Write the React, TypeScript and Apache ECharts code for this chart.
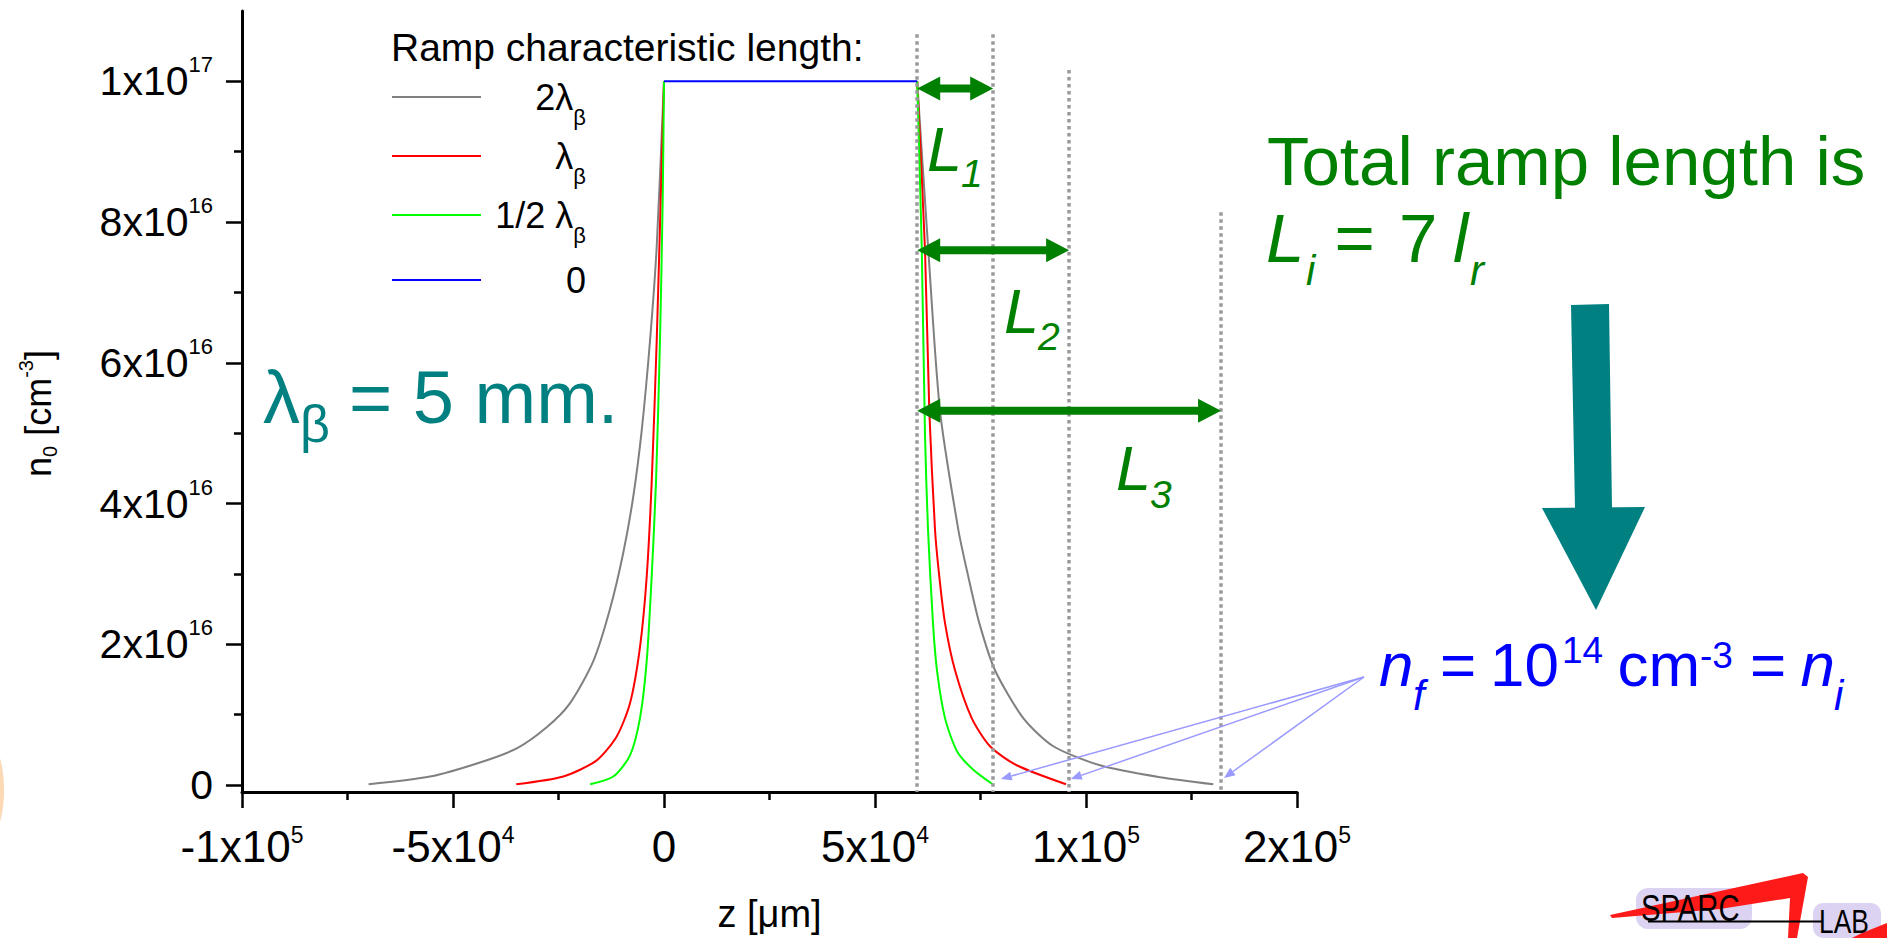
import React, { useEffect, useRef } from 'react';
import * as echarts from 'echarts';

const FONT = "'Liberation Sans', Arial, Helvetica, sans-serif";

// ---------- axes ----------
const X_MIN = -100000;
const X_MAX = 150000;
const Y_MIN = -1e15;
const Y_MAX = 1.1e17;

const xTickValues = [-100000, -50000, 0, 50000, 100000, 150000];
const xTickBase = ['-1x10', '-5x10', '0', '5x10', '1x10', '2x10'];
const xTickExp = ['5', '4', '', '4', '5', '5'];
const xMinorTicks = [-75000, -25000, 25000, 75000, 125000];

const yTickValues = [0, 2e16, 4e16, 6e16, 8e16, 1e17];
const yTickBase = ['0', '2x10', '4x10', '6x10', '8x10', '1x10'];
const yTickExp = ['', '16', '16', '16', '16', '17'];
const yMinorTicks = [1e16, 3e16, 5e16, 7e16, 9e16];

// ---------- series ----------
const seriesNames = ['2λβ', 'λβ', '1/2 λβ', '0'];
const seriesColors = ['#808080', '#ff0000', '#00ff00', '#0000ff'];
const legendMain = ['2λ', 'λ', '1/2 λ', '0'];
const legendSub = ['β', 'β', 'β', ''];

// z [µm], n0 [cm^-3]
const grayLeft = [
  [-70000, 1e14], [-55450, 1.2e15], [-43600, 3.2e15], [-34900, 5.2e15], [-27800, 8.2e15],
  [-22300, 1.16e16], [-16750, 1.76e16], [-12800, 2.5e16], [-9650, 3.3e16], [-7280, 4.1e16],
  [-5280, 5.04e16], [-3320, 6.31e16], [-1730, 7.65e16], [0, 1e17],
];
const grayRight = [
  [60000, 1e17], [62630, 7.6e16], [65400, 5.32e16], [69740, 3.63e16], [72110, 2.96e16],
  [74720, 2.3e16], [78440, 1.63e16], [85140, 9.5e15], [92250, 5.5e15], [103320, 2.8e15],
  [117540, 1.1e15], [130170, 1e14],
];
const redLeft = [
  [-35000, 1e14], [-23860, 1.2e15], [-15950, 3.5e15], [-11210, 6.9e15], [-8060, 1.16e16],
  [-5690, 1.96e16], [-4100, 2.96e16], [-2920, 4.3e16], [-1730, 6.31e16], [-780, 8.32e16], [0, 1e17],
];
const redRight = [
  [60000, 1e17], [61850, 7.6e16], [62870, 5.32e16], [64220, 3.63e16], [65240, 2.96e16],
  [66590, 2.3e16], [68960, 1.63e16], [72920, 9.5e15], [77250, 5.5e15], [83580, 2.8e15], [95260, 1e14],
];
const greenLeft = [
  [-17500, 1e14], [-12010, 1.2e15], [-8060, 4.2e15], [-5690, 9.5e15], [-4100, 1.76e16],
  [-2920, 2.96e16], [-1900, 4.3e16], [-950, 6.31e16], [-310, 8.32e16], [0, 1e17],
];
const greenRight = [
  [60000, 1e17], [61070, 7.65e16], [61850, 4.97e16], [62560, 3.63e16], [63740, 2.3e16],
  [64690, 1.63e16], [66590, 9.5e15], [69430, 4.8e15], [73220, 2.2e15], [77890, 1e14],
];
const bluePlateau = [[0, 1e17], [60000, 1e17]];

// ---------- annotations (data space) ----------
const dottedX = [60000, 78000, 96000, 132000];
const dottedTop = [1.067e17, 1.067e17, 1.016e17, 8.14e16];
const rampArrows = [
  { from: 60000, to: 78000, n: 9.9e16 },
  { from: 60000, to: 96000, n: 7.6e16 },
  { from: 60000, to: 132000, n: 5.32e16 },
];
const nfTargets = [[79800, 8.5e14], [96400, 8.5e14], [132700, 1e15]];

const TEAL = '#008080';
const GREEN = '#008000';
const BLUE = '#0000ff';
const LIGHTBLUE = '#9999ff';

function idxOf(arr: number[], v: number) {
  for (let i = 0; i < arr.length; i++) if (Math.abs(arr[i] - v) < 1) return i;
  return -1;
}

function mkSeries(name: string, color: string, data: number[][]) {
  return {
    type: 'line',
    name,
    data,
    symbol: 'none',
    showSymbol: false,
    smooth: 0.25,
    lineStyle: { color, width: 2 },
    itemStyle: { color },
    emphasis: { disabled: true },
    silent: true,
  };
}

function txt(text: string, x: number, y: number, size: number, color: string, italic = false) {
  return {
    type: 'text',
    x,
    y,
    z: 100,
    silent: true,
    style: {
      text,
      fill: color,
      fontSize: size,
      fontFamily: FONT,
      fontStyle: italic ? 'italic' : 'normal',
      align: 'left',
      verticalAlign: 'middle',
    },
  };
}

const legendFormatter = (name: string) => {
  const i = seriesNames.indexOf(name);
  return `{a|${legendMain[i]}}` + (legendSub[i] ? `{b|${legendSub[i]}}` : '');
};

const legendTextStyle = {
  width: 100,
  fontFamily: FONT,
  fontSize: 36,
  color: '#000',
  rich: {
    a: { fontFamily: FONT, fontSize: 36, color: '#000', lineHeight: 64, align: 'right', verticalAlign: 'middle' },
    b: { fontFamily: FONT, fontSize: 22, color: '#000', lineHeight: 22, align: 'right', verticalAlign: 'top', padding: [41, 0, 0, 0] },
  },
};

export default function App() {
  const ref = useRef<HTMLDivElement>(null);

  useEffect(() => {
    document.body.style.margin = '0';
    document.body.style.overflow = 'hidden';
    const chart = echarts.init(ref.current as HTMLDivElement, null, { renderer: 'svg' });

    const xRich = {
      b: { fontFamily: FONT, fontSize: 44, color: '#000', lineHeight: 46, verticalAlign: 'middle' },
      s: { fontFamily: FONT, fontSize: 23, color: '#000', lineHeight: 22, verticalAlign: 'top' },
    };
    const yRich = {
      b: { fontFamily: FONT, fontSize: 41, color: '#000', lineHeight: 55, verticalAlign: 'middle' },
      s: { fontFamily: FONT, fontSize: 22, color: '#000', lineHeight: 22, verticalAlign: 'top' },
    };

    const legendCommon = {
      orient: 'vertical',
      left: 392,
      padding: 0,
      itemWidth: 89,
      itemHeight: 2,
      itemGap: -4,
      selectedMode: false,
      formatter: legendFormatter,
      textStyle: legendTextStyle,
    };

    const option: any = {
      animation: false,
      backgroundColor: '#ffffff',
      textStyle: { fontFamily: FONT },
      title: {
        text: 'Ramp characteristic length:',
        left: 391,
        top: 28,
        padding: 0,
        textStyle: { fontFamily: FONT, fontSize: 39, fontWeight: 'normal', color: '#000' },
      },
      legend: [
        { ...legendCommon, top: 65, data: seriesNames.slice(0, 3).map((name) => ({ name, icon: 'rect' })) },
        { ...legendCommon, top: 262, data: seriesNames.slice(3).map((name) => ({ name, icon: 'rect' })) },
      ],
      grid: { left: 242, right: 590, top: 11, bottom: 143, containLabel: false },
      xAxis: [
        {
          type: 'value',
          min: X_MIN,
          max: X_MAX,
          position: 'bottom',
          axisLine: { onZero: false, lineStyle: { color: '#000', width: 3 } },
          axisTick: { customValues: xTickValues, length: 16, lineStyle: { color: '#000', width: 2.5 } },
          axisLabel: {
            customValues: xTickValues,
            margin: 31,
            formatter: (v: number) => {
              const i = idxOf(xTickValues, v);
              if (i < 0) return '';
              return `{b|${xTickBase[i]}}` + (xTickExp[i] ? `{s|${xTickExp[i]}}` : '');
            },
            rich: xRich,
          },
          splitLine: { show: false },
          name: 'z [μm]',
          nameLocation: 'middle',
          nameGap: 103,
          nameTextStyle: { fontFamily: FONT, fontSize: 38, color: '#000' },
        },
        {
          type: 'value',
          min: X_MIN,
          max: X_MAX,
          position: 'bottom',
          axisLine: { show: false, onZero: false },
          axisTick: { customValues: xMinorTicks, length: 8, lineStyle: { color: '#000', width: 2.5 } },
          axisLabel: { show: false },
          splitLine: { show: false },
        },
      ],
      yAxis: [
        {
          type: 'value',
          min: Y_MIN,
          max: Y_MAX,
          position: 'left',
          axisLine: { show: true, onZero: false, lineStyle: { color: '#000', width: 3 } },
          axisTick: { show: true, customValues: yTickValues, length: 16, lineStyle: { color: '#000', width: 2.5 } },
          axisLabel: {
            customValues: yTickValues,
            margin: 29,
            formatter: (v: number) => {
              const i = idxOf(yTickValues, v);
              if (i < 0) return '';
              return `{b|${yTickBase[i]}}` + (yTickExp[i] ? `{s|${yTickExp[i]}}` : '');
            },
            rich: yRich,
          },
          splitLine: { show: false },
          name: '{n|n}{s|0}{n| [cm}{p|-3}{n|]}',
          nameLocation: 'middle',
          nameRotate: 90,
          nameGap: 182,
          nameTextStyle: {
            fontFamily: FONT,
            fontSize: 36,
            color: '#000',
            padding: [0, 24, 0, 0],
            rich: {
              n: { fontFamily: FONT, fontSize: 36, color: '#000', lineHeight: 44, verticalAlign: 'middle' },
              s: { fontFamily: FONT, fontSize: 20, color: '#000', lineHeight: 20, verticalAlign: 'bottom' },
              p: { fontFamily: FONT, fontSize: 20, color: '#000', lineHeight: 20, verticalAlign: 'top' },
            },
          },
        },
        {
          type: 'value',
          min: Y_MIN,
          max: Y_MAX,
          position: 'left',
          axisLine: { show: false, onZero: false },
          axisTick: { show: true, customValues: yMinorTicks, length: 8, lineStyle: { color: '#000', width: 2.5 } },
          axisLabel: { show: false },
          splitLine: { show: false },
        },
      ],
      series: [
        mkSeries(seriesNames[0], seriesColors[0], grayLeft),
        mkSeries(seriesNames[0], seriesColors[0], grayRight),
        mkSeries(seriesNames[1], seriesColors[1], redLeft),
        mkSeries(seriesNames[1], seriesColors[1], redRight),
        mkSeries(seriesNames[2], seriesColors[2], greenLeft),
        mkSeries(seriesNames[2], seriesColors[2], greenRight),
        {
          ...mkSeries(seriesNames[3], seriesColors[3], bluePlateau),
          smooth: false,
          markLine: {
            silent: true,
            symbol: ['none', 'none'],
            label: { show: false },
            emphasis: { disabled: true },
            lineStyle: { color: '#9a9a9a', width: 3.5, type: [3.5, 3.5] },
            data: dottedX.map((x, i) => [{ coord: [x, dottedTop[i]] }, { coord: [x, Y_MIN] }]),
          },
        },
      ],
    };

    chart.setOption(option);

    const px = (p: number[]) => chart.convertToPixel({ xAxisIndex: 0, yAxisIndex: 0 }, p) as number[];
    const els: any[] = [];

    // green double arrows (L1, L2, L3)
    rampArrows.forEach((a) => {
      const [x1, y] = px([a.from, a.n]);
      const [x2] = px([a.to, a.n]);
      const hl = 23, hw = 12, st = 4;
      els.push({ type: 'polygon', z: 100, silent: true, shape: { points: [[x1 + hl - 2, y - st], [x2 - hl + 2, y - st], [x2 - hl + 2, y + st], [x1 + hl - 2, y + st]] }, style: { fill: GREEN } });
      els.push({ type: 'polygon', z: 100, silent: true, shape: { points: [[x1, y], [x1 + hl, y - hw], [x1 + hl, y + hw]] }, style: { fill: GREEN } });
      els.push({ type: 'polygon', z: 100, silent: true, shape: { points: [[x2, y], [x2 - hl, y - hw], [x2 - hl, y + hw]] }, style: { fill: GREEN } });
    });

    // light-blue pointers to n_f
    const S = [1364, 677];
    nfTargets.forEach((t) => {
      const [ex, ey] = px(t);
      const dx = ex - S[0], dy = ey - S[1];
      const L = Math.hypot(dx, dy);
      const ux = dx / L, uy = dy / L;
      const hl = 11, hw = 4.5;
      const bx = ex - ux * hl, by = ey - uy * hl;
      els.push({ type: 'line', z: 100, silent: true, shape: { x1: S[0], y1: S[1], x2: bx, y2: by }, style: { stroke: LIGHTBLUE, lineWidth: 1.5 } });
      els.push({ type: 'polygon', z: 100, silent: true, shape: { points: [[ex, ey], [bx - uy * hw, by + ux * hw], [bx + uy * hw, by - ux * hw]] }, style: { fill: LIGHTBLUE } });
    });

    // L labels
    els.push(txt('L', 927, 149, 63, GREEN, true), txt('1', 961, 173.5, 39, GREEN, true));
    els.push(txt('L', 1004, 311, 63, GREEN, true), txt('2', 1038, 336.5, 39, GREEN, true));
    els.push(txt('L', 1116, 468, 63, GREEN, true), txt('3', 1150, 494.5, 39, GREEN, true));

    // lambda_beta text
    els.push(txt('λ', 263, 397.4, 74, TEAL), txt('β', 300, 423.5, 52, TEAL), txt('= 5 mm.', 349, 397.4, 74, TEAL));

    // total ramp length text
    els.push(txt('Total ramp length is', 1267, 161, 69, GREEN));
    els.push(txt('L', 1266, 238, 69, GREEN, true), txt('i', 1306, 270, 42, GREEN, true));
    els.push(txt('=', 1334.5, 238, 69, GREEN), txt('7', 1399, 238, 69, GREEN));
    els.push(txt('l', 1453, 238, 69, GREEN, true), txt('r', 1470, 270, 42, GREEN, true));

    // big teal arrow
    els.push({ type: 'polygon', z: 100, silent: true, shape: { points: [[1571, 305], [1609, 304], [1612, 509], [1575, 509]] }, style: { fill: TEAL } });
    els.push({ type: 'polygon', z: 100, silent: true, shape: { points: [[1542, 508], [1645, 507], [1596, 610]] }, style: { fill: TEAL } });

    // n_f = 10^14 cm^-3 = n_i
    els.push(txt('n', 1379, 664.5, 62, BLUE, true), txt('f', 1413, 695.4, 42, BLUE, true));
    els.push(txt('=', 1440, 664.5, 62, BLUE), txt('10', 1490, 664.5, 62, BLUE), txt('14', 1562, 650, 37, BLUE));
    els.push(txt('cm', 1617.5, 664.5, 62, BLUE), txt('-3', 1700, 655, 37, BLUE));
    els.push(txt('=', 1750, 664.5, 62, BLUE), txt('n', 1800.5, 664.5, 62, BLUE, true), txt('i', 1834, 695.4, 42, BLUE, true));

    // orange smudge at left edge
    els.push({ type: 'ellipse', z: 1, silent: true, shape: { cx: -12, cy: 790, rx: 16, ry: 48 }, style: { fill: 'rgba(250,190,130,0.6)' } });

    // SPARC LAB logo
    els.push({ type: 'rect', z: 99, silent: true, shape: { x: 1636, y: 888, width: 116, height: 41, r: 12 }, style: { fill: 'rgba(185,165,230,0.5)' } });
    els.push({ type: 'rect', z: 99, silent: true, shape: { x: 1813, y: 903, width: 68, height: 35, r: 10 }, style: { fill: 'rgba(185,165,230,0.5)' } });
    els.push({ type: 'polygon', z: 100, silent: true, shape: { points: [[1610, 915], [1803, 873], [1808, 877], [1797, 938], [1788, 938], [1790, 898], [1720, 909], [1612, 918]] }, style: { fill: '#ff1a1a' } });
    els.push({ type: 'polygon', z: 100, silent: true, shape: { points: [[1862, 933], [1887, 923], [1887, 938], [1852, 938]] }, style: { fill: '#ff1a1a' } });
    els.push({ type: 'line', z: 101, silent: true, shape: { x1: 1648, y1: 921.5, x2: 1822, y2: 921.5 }, style: { stroke: '#000', lineWidth: 2 } });
    els.push({ type: 'text', z: 101, silent: true, x: 1641, y: 908, scaleX: 0.79, style: { text: 'SPARC', fill: '#000', fontSize: 37, fontFamily: FONT, align: 'left', verticalAlign: 'middle' } });
    els.push({ type: 'text', z: 101, silent: true, x: 1819, y: 921, scaleX: 0.8, style: { text: 'LAB', fill: '#000', fontSize: 33, fontFamily: FONT, align: 'left', verticalAlign: 'middle' } });

    chart.setOption({ graphic: { elements: els } });

    return () => chart.dispose();
  }, []);

  return <div ref={ref} style={{ position: 'fixed', left: 0, top: 0, width: 1887, height: 938 }} />;
}
